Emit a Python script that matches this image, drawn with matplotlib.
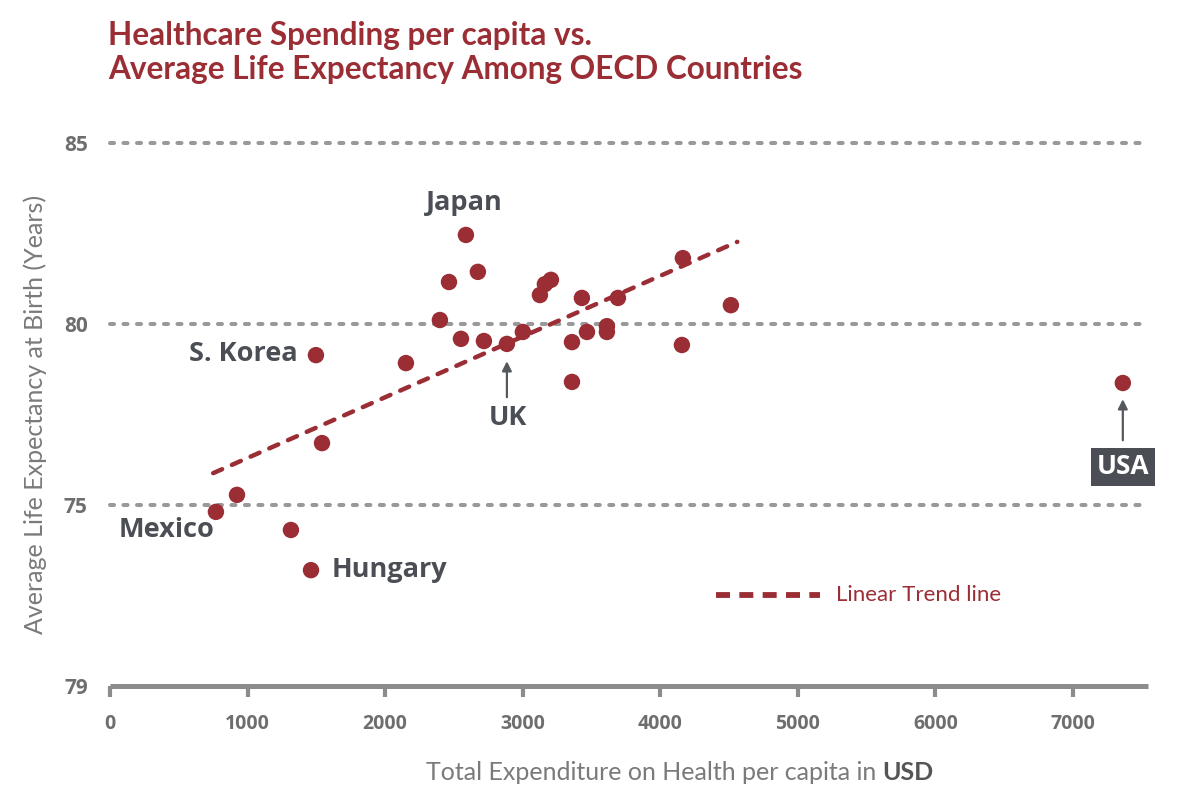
import numpy as np
import matplotlib.pyplot as plt

# spending per capita (USD) and life expectancy (years)
spend = [770, 923, 1315, 1461, 1497, 1541, 2151, 2398, 2464, 2587, 2551, 2674,
         2718, 2885, 3001, 3125, 3161, 3205, 3358, 3358, 3430, 3467, 3612, 3612,
         3692, 4164, 4157, 4513, 7362]
life = [74.81, 75.28, 74.31, 73.20, 79.14, 76.71, 78.92, 80.11, 81.16, 82.46,
        79.59, 81.44, 79.53, 79.45, 79.78, 80.80, 81.10, 81.22, 79.50, 78.40,
        80.72, 79.78, 79.94, 79.78, 80.72, 81.82, 79.42, 80.52, 78.37]

trend_x = [750, 4560]
trend_y = [75.88, 82.27]

y_ticks = [70, 75, 80, 85]
y_tick_labels = ['79', '75', '80', '85']
x_ticks = [0, 1000, 2000, 3000, 4000, 5000, 6000, 7000]

red = '#9b2d35'
grey = '#8c8c8c'
dark = '#4b4f55'
lato = ['Lato', 'DejaVu Sans']
opens = ['Open Sans', 'DejaVu Sans']

fig = plt.figure(figsize=(12, 7.93), dpi=100)
ax = fig.add_axes([110 / 1200, 1 - 686 / 793, 1038 / 1200, 543 / 793])
ax.set_xlim(0, 7545)
ax.set_ylim(70, 85)

for s in ['top', 'right', 'left']:
    ax.spines[s].set_visible(False)
ax.spines['bottom'].set_color(grey)
ax.spines['bottom'].set_linewidth(3.6)
ax.spines['bottom'].set_capstyle('butt')

for yv in y_ticks[1:]:
    ax.axhline(yv, color='#999999', lw=2.9, ls=(0, (1.0, 2.35)),
               dash_capstyle='round', clip_on=False, zorder=1)

ax.plot(trend_x, trend_y, color=red, lw=3.2, ls=(0, (2.2, 2.4)),
        dash_capstyle='round', zorder=2)
ax.scatter(spend, life, s=140, color=red, edgecolors='none', zorder=3,
           clip_on=False)

ax.set_xticks(x_ticks)
ax.set_xticklabels([str(v) for v in x_ticks], family=opens,
                   fontweight='bold', fontsize=14, color='#6e6e6e')
ax.tick_params(axis='x', direction='out', length=8, width=3, color=grey,
               pad=12)
ax.set_yticks(y_ticks)
ax.set_yticklabels(y_tick_labels, fontweight='bold', fontsize=15,
                   color='#6e6e6e', family=opens)
ax.tick_params(axis='y', length=0, pad=16)

lab = dict(fontsize=19.5, fontweight='bold', color=dark, family=opens)
ax.text(2573, 83.34, 'Japan', ha='center', va='center', **lab)
ax.text(1366, 79.17, 'S. Korea', ha='right', va='center', **lab)
ax.text(756, 74.31, 'Mexico', ha='right', va='center', **lab)
ax.text(1613, 73.20, 'Hungary', ha='left', va='center', **lab)
ax.text(2892, 77.40, 'UK', ha='center', va='center', **lab)
ax.annotate('', xy=(2885, 79.05), xytext=(2885, 77.9),
            arrowprops=dict(arrowstyle='-|>', color='#55595e', lw=1.6,
                            mutation_scale=14))
ax.text(7362, 76.05, 'USA', ha='center', va='center', color='white',
        fontsize=19, fontweight='bold', family=opens,
        bbox=dict(boxstyle='square,pad=0.22', fc=dark, ec='none'))
ax.annotate('', xy=(7362, 78.0), xytext=(7362, 76.71),
            arrowprops=dict(arrowstyle='-|>', color='#55595e', lw=1.6,
                            mutation_scale=14))

# legend
ax.plot([0.584, 0.684], [0.168, 0.168], transform=ax.transAxes, color=red,
        lw=4.2, ls=(0, (2.4, 1.6)), clip_on=False)
ax.text(0.699, 0.168, 'Linear Trend line', transform=ax.transAxes, ha='left',
        va='center', color=red, fontsize=16, family=lato)

ax.set_ylabel('Average Life Expectancy at Birth (Years)', fontsize=18,
              color='#7a7a7a', family=lato, labelpad=12)

xl = fig.text(0.545, 1 - 773 / 793, 'Total Expenditure on Health per capita in ',
              ha='center', va='center', fontsize=18, color='#7a7a7a',
              family=lato)
ax.annotate('USD', xy=(1, 0.5), xycoords=xl, ha='left', va='center',
            fontsize=18, fontweight='bold', color='#555555', family=lato)

fig.text(108 / 1200, 1 - 36 / 793, 'Healthcare Spending per capita vs.',
         ha='left', va='center', fontsize=22.7, fontweight='bold', color=red,
         family=lato)
fig.text(108 / 1200, 1 - 70 / 793, 'Average Life Expectancy Among OECD Countries',
         ha='left', va='center', fontsize=22.7, fontweight='bold', color=red,
         family=lato)

fig.savefig('out.png', dpi=100, facecolor='white')
